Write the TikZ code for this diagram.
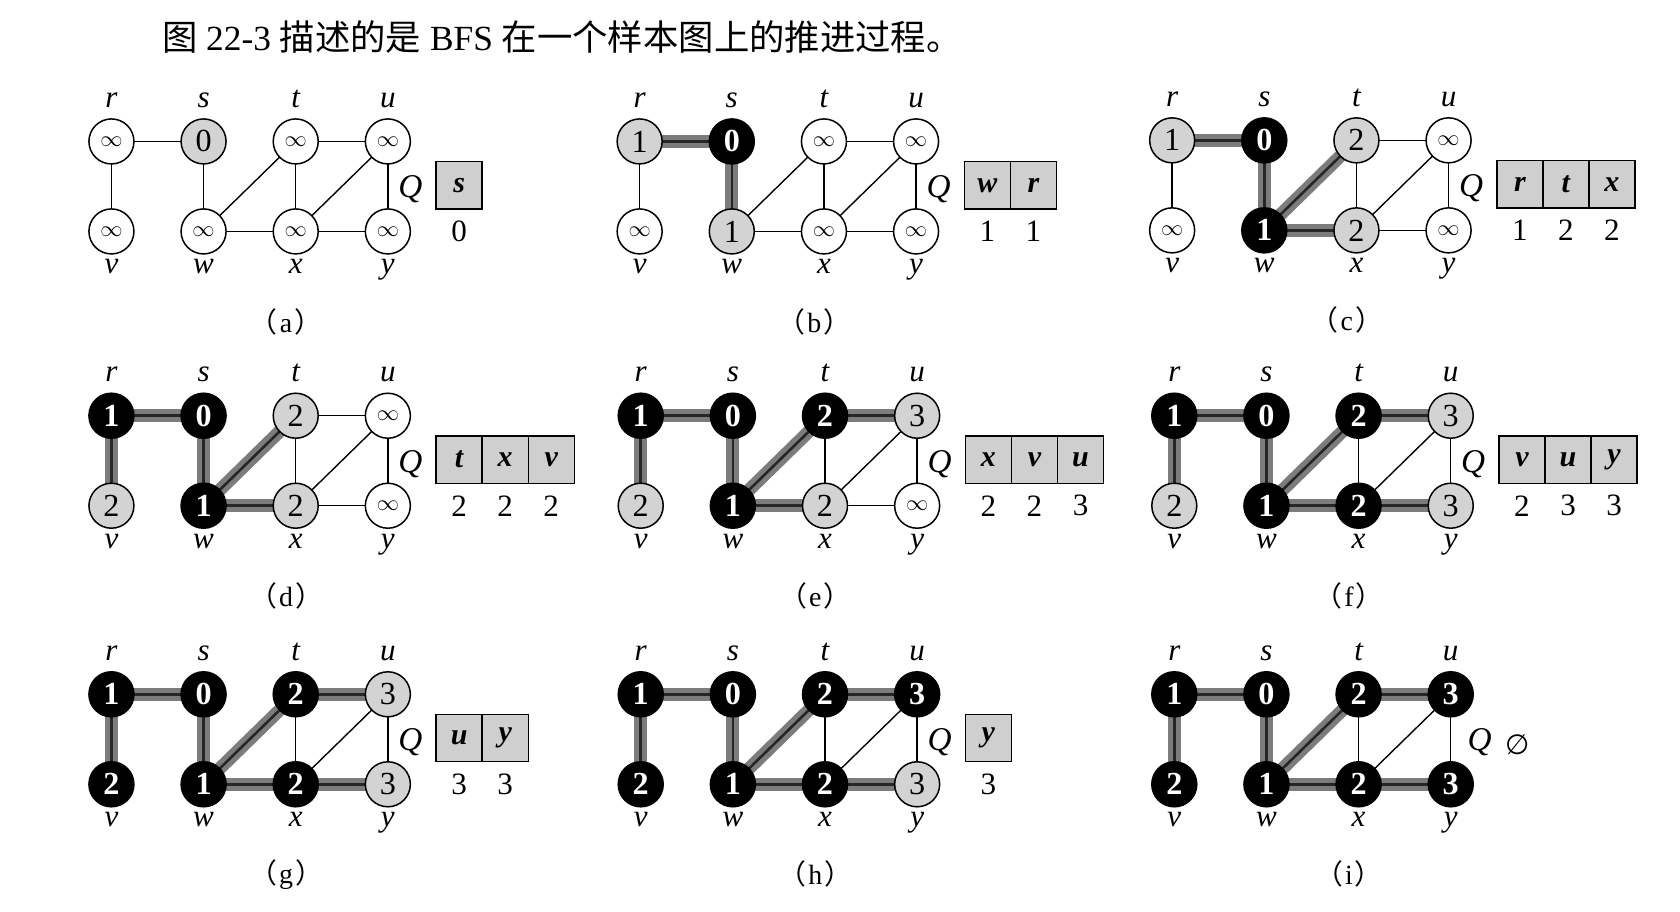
\documentclass[tikz,border=0pt]{standalone}
\usepackage{fontspec}
\setmainfont{Liberation Serif}
\newfontfamily\cjk{Noto Sans CJK SC}
\newfontfamily\dejavu{DejaVu Sans}
\pgfdeclarelayer{bg}
\pgfdeclarelayer{paper}
\pgfsetlayers{paper,bg,main}
\definecolor{lgray}{HTML}{D3D3D3}
\definecolor{bandgray}{HTML}{7C7C7C}
\definecolor{qgray}{HTML}{CFCFCF}
\tikzset{
 vbase/.style={circle, draw=black, line width=1.4pt, minimum size=42pt, inner sep=0pt, font=\fontsize{30}{30}\selectfont},
 stw/.style={vbase, fill=white},
 stg/.style={vbase, fill=lgray},
 stb/.style={vbase, fill=black, text=white, font=\fontsize{30}{30}\selectfont\bfseries},
 vlab/.style={font=\fontsize{29}{29}\selectfont\itshape, inner sep=0pt, anchor=base},
 thinedge/.style={line width=1.3pt},
 band/.style={line width=12pt, draw=bandgray},
 bandcore/.style={line width=2.4pt, draw=black!85},
 qcell/.style={draw=black, line width=1.3pt, fill=qgray, minimum width=43pt, minimum height=44pt, inner sep=0pt, outer sep=0pt, font=\fontsize{28}{28}\selectfont\bfseries\itshape},
 qnum/.style={font=\fontsize{29}{29}\selectfont, inner sep=0pt},
 qlab/.style={font=\fontsize{31}{31}\selectfont\itshape, inner sep=0pt},
 capt/.style={font=\fontsize{26}{26}\selectfont, inner sep=0pt},
}
\newcommand\vtx[5]{\node[st#3] (#1-#2) at #4 {\if w#3{\fontsize{22}{22}\selectfont$\infty$}\else #5\fi};}
\newcommand\panelnodes[9]{%
 \vtx{#1}{r}{#2}{(0,0)}{1}
 \vtx{#1}{s}{#3}{(86,0)}{0}
 \vtx{#1}{t}{#4}{(172,0)}{2}
 \vtx{#1}{u}{#5}{(258,0)}{3}
 \vtx{#1}{v}{#6}{(0,84)}{2}
 \vtx{#1}{w}{#7}{(86,84)}{1}
 \vtx{#1}{x}{#8}{(172,84)}{2}
 \vtx{#1}{y}{#9}{(258,84)}{3}
 \node[vlab] (#1-lr) at (0,-31.5) {r};
 \node[vlab] (#1-ls) at (86,-31.5) {s};
 \node[vlab] (#1-lt) at (172,-31.5) {t};
 \node[vlab] (#1-lu) at (258,-31.5) {u};
 \node[vlab] (#1-lv) at (0,123.5) {v};
 \node[vlab] (#1-lw) at (86,123.5) {w};
 \node[vlab] (#1-lx) at (172,123.5) {x};
 \node[vlab] (#1-ly) at (258,123.5) {y};
 \begin{pgfonlayer}{bg}
 \foreach \a/\b in {r/s,r/v,s/w,w/t,w/x,t/u,t/x,x/u,x/y,u/y}
   \draw[thinedge] (#1-\a.center) -- (#1-\b.center);
 \end{pgfonlayer}
}
\newcommand\treeedges[2]{%
 \begin{pgfonlayer}{bg}
 \foreach \a/\b in {#2} {
   \draw[band] (#1-\a.center) -- (#1-\b.center);
   \draw[bandcore] (#1-\a.center) -- (#1-\b.center);
 }
 \end{pgfonlayer}
}
\newcommand\queue[2]{%
 \node[qlab] (#1-Q) at (279,45) {Q};
 \foreach \c/\n [count=\i] in {#2} {
   \node[qcell] (#1-q\i) at ({324.5+43*(\i-1)},41) {\c};
   \node[qnum] (#1-n\i) at ({324.5+43*(\i-1)},84) {\n};
 }
}
\newcommand\capt[2]{\node[capt] (#1-cap) at (163,168) {{\cjk （}\hspace{2pt}#2\hspace{2pt}{\cjk ）}};}
\begin{document}
\begin{tikzpicture}[x=1pt,y=-1pt]
\begin{pgfonlayer}{paper}
\fill[white] (0,0) rectangle (1568,851);
\end{pgfonlayer}
\useasboundingbox (0,0) rectangle (1568,851);
\node[anchor=west, inner sep=0pt, font=\fontsize{33}{33}\selectfont] (title) at (151,35)
  {{\cjk 图} 22-3 {\cjk 描述的是} BFS {\cjk 在一个样本图上的推进过程。}};
% (a)
\begin{scope}[shift={(104,132)}]
 \panelnodes{a}{w}{g}{w}{w}{w}{w}{w}{w}
 \queue{a}{s/0}
 \capt{a}{a}
\end{scope}
% (b)
\begin{scope}[shift={(597,132)}]
 \panelnodes{b}{g}{b}{w}{w}{w}{g}{w}{w}
 \treeedges{b}{r/s,s/w}
 \queue{b}{w/1,r/1}
 \capt{b}{b}
\end{scope}
% (c)
\begin{scope}[shift={(1094,131)}]
 \panelnodes{c}{g}{b}{g}{w}{w}{b}{g}{w}
 \treeedges{c}{r/s,s/w,w/t,w/x}
 \queue{c}{r/1,t/2,x/2}
 \capt{c}{c}
\end{scope}
% (d)
\begin{scope}[shift={(104,388)}]
 \panelnodes{d}{b}{b}{g}{w}{g}{b}{g}{w}
 \treeedges{d}{r/s,s/w,w/t,w/x,r/v}
 \queue{d}{t/2,x/2,v/2}
 \capt{d}{d}
\end{scope}
% (e)
\begin{scope}[shift={(598,388)}]
 \panelnodes{e}{b}{b}{b}{g}{g}{b}{g}{w}
 \treeedges{e}{r/s,s/w,w/t,w/x,r/v,t/u}
 \queue{e}{x/2,v/2,u/3}
 \capt{e}{e}
\end{scope}
% (f)
\begin{scope}[shift={(1096,388)}]
 \panelnodes{f}{b}{b}{b}{g}{g}{b}{b}{g}
 \treeedges{f}{r/s,s/w,w/t,w/x,r/v,t/u,x/y}
 \queue{f}{v/2,u/3,y/3}
 \capt{f}{f}
\end{scope}
% (g)
\begin{scope}[shift={(104,648)}]
 \panelnodes{g}{b}{b}{b}{g}{b}{b}{b}{g}
 \treeedges{g}{r/s,s/w,w/t,w/x,r/v,t/u,x/y}
 \queue{g}{u/3,y/3}
 \capt{g}{g}
\end{scope}
% (h)
\begin{scope}[shift={(598,648)}]
 \panelnodes{h}{b}{b}{b}{b}{b}{b}{b}{g}
 \treeedges{h}{r/s,s/w,w/t,w/x,r/v,t/u,x/y}
 \queue{h}{y/3}
 \capt{h}{h}
\end{scope}
% (i)
\begin{scope}[shift={(1096,648)}]
 \panelnodes{i}{b}{b}{b}{b}{b}{b}{b}{b}
 \treeedges{i}{r/s,s/w,w/t,w/x,r/v,t/u,x/y}
 \node[qlab] (i-Q) at (285,45) {Q};
 \node[inner sep=0pt, font=\fontsize{26}{26}\selectfont\dejavu] (i-empty) at (320,47) {∅};
 \capt{i}{i}
\end{scope}
\end{tikzpicture}
\end{document}
